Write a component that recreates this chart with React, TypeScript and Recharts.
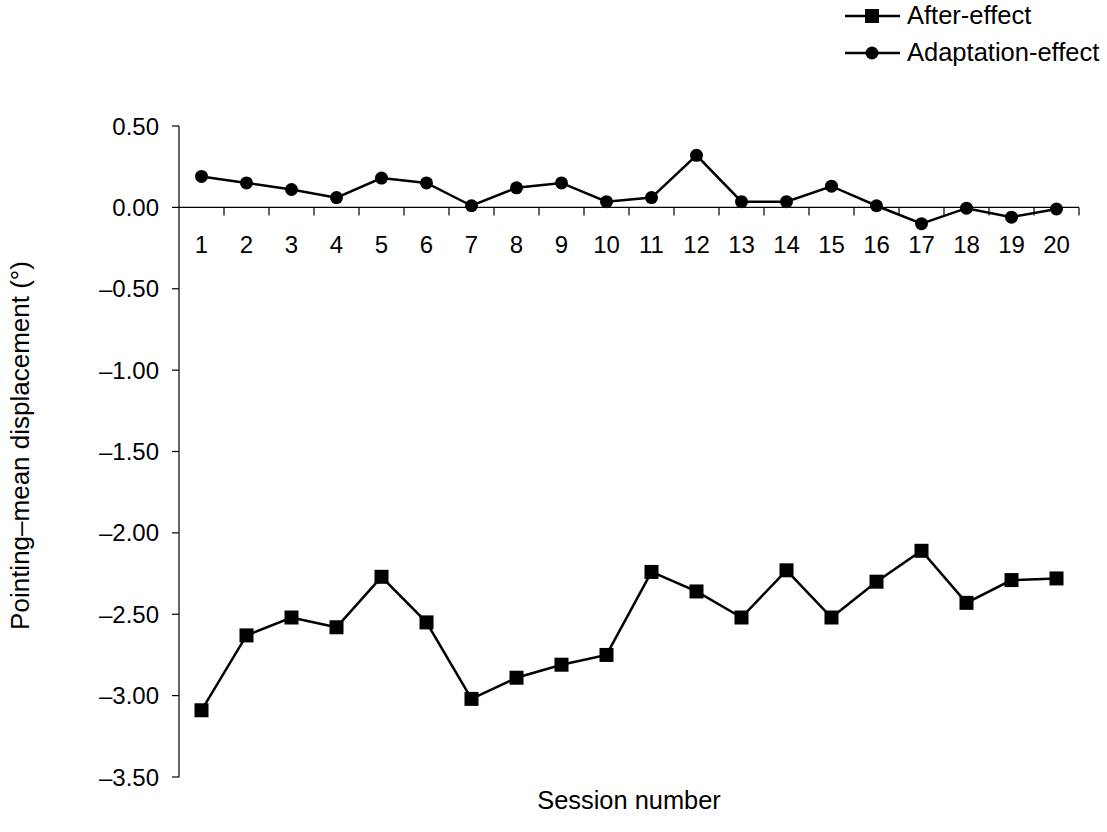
import React from 'react';
import { LineChart, Line, XAxis, YAxis, ReferenceLine } from 'recharts';

const sessions = ['1', '2', '3', '4', '5', '6', '7', '8', '9', '10', '11', '12', '13', '14', '15', '16', '17', '18', '19', '20'];
const afterEffect = [-3.09, -2.63, -2.52, -2.58, -2.27, -2.55, -3.02, -2.89, -2.81, -2.75, -2.24, -2.36, -2.52, -2.23, -2.52, -2.3, -2.11, -2.43, -2.29, -2.28];
const adaptationEffect = [0.19, 0.15, 0.11, 0.06, 0.18, 0.15, 0.01, 0.12, 0.15, 0.035, 0.06, 0.32, 0.035, 0.035, 0.13, 0.01, -0.1, -0.005, -0.06, -0.01];
const yTicks = [-3.5, -3, -2.5, -2, -1.5, -1, -0.5, 0, 0.5];
const seriesNames = ['After-effect', 'Adaptation-effect'];

const data = sessions.map((s, i) => ({ session: s, after: afterEffect[i], adaptation: adaptationEffect[i] }));

const FONT = '"Liberation Sans", Arial, Helvetica, sans-serif';

const fmt = (v: number) => v.toFixed(2).replace('-', '\u2013');

// zero line drawn as the category axis: ticks between sessions, labels under each one
const ZeroAxis = (props: any) => {
  const { x1, x2, y1 } = props;
  const n = sessions.length;
  const bw = (x2 - x1) / n;
  return (
    <g>
      <line x1={x1} y1={y1} x2={x2} y2={y1} stroke="#000" strokeWidth={1.2} />
      {sessions.map((s, i) => (
        <line key={'t' + i} x1={x1 + (i + 1) * bw} x2={x1 + (i + 1) * bw} y1={y1} y2={y1 + 8} stroke="#000" strokeWidth={1.2} />
      ))}
      {sessions.map((s, i) => (
        <text key={'l' + i} x={x1 + (i + 0.5) * bw} y={y1 + 46} textAnchor="middle" fontSize={24} fontFamily={FONT} fill="#000">
          {s}
        </text>
      ))}
    </g>
  );
};

const SquareDot = (p: any) => (
  <rect key={'sq' + p.index} x={p.cx - 7} y={p.cy - 7} width={14} height={14} fill="#000" />
);

const CircleDot = (p: any) => (
  <circle key={'c' + p.index} cx={p.cx} cy={p.cy} r={6.5} fill="#000" />
);

const LegendBox = () => (
  <div style={{ position: 'absolute', left: 843, top: -3, fontFamily: FONT, fontSize: 25.5, color: '#000' }}>
    {seriesNames.map((name, i) => (
      <div key={name} style={{ display: 'flex', alignItems: 'center', height: 37 }}>
        <svg width={60} height={20} style={{ marginRight: 4 }}>
          <line x1={2} y1={10} x2={57} y2={10} stroke="#000" strokeWidth={2.5} />
          {i === 0 ? <rect x={22} y={3} width={14} height={14} fill="#000" /> : <circle cx={29} cy={10} r={6.5} fill="#000" />}
        </svg>
        <span>{name}</span>
      </div>
    ))}
  </div>
);

export default function App() {
  return (
    <div style={{ position: 'absolute', left: 0, top: 0, width: 1107, height: 832, background: '#fff' }}>
      <LineChart width={1107} height={832} data={data} margin={{ top: 126, right: 28, left: 0, bottom: 15 }}>
        <XAxis
          dataKey="session"
          scale="band"
          height={40}
          axisLine={false}
          tickLine={false}
          tick={false}
          label={{
            content: (p: any) => {
              const vb = p.viewBox;
              return (
                <text x={vb.x + vb.width / 2} y={vb.y + 32} textAnchor="middle" fontSize={25.4} fontFamily={FONT} fill="#000">
                  Session number
                </text>
              );
            },
          }}
        />
        <YAxis
          width={179}
          domain={[-3.5, 0.5]}
          ticks={yTicks}
          interval={0}
          tickFormatter={fmt}
          tickSize={7}
          tickMargin={13}
          axisLine={{ stroke: '#000', strokeWidth: 1.2 }}
          tickLine={{ stroke: '#000', strokeWidth: 1.2 }}
          tick={{ fill: '#000', fontSize: 24, fontFamily: FONT }}
          label={{
            content: (p: any) => {
              const vb = p.viewBox;
              const cx = vb.x + 20;
              const cy = vb.y + vb.height / 2 - 6;
              return (
                <text x={cx} y={cy} transform={`rotate(-90, ${cx}, ${cy})`} textAnchor="middle" dominantBaseline="central" fontSize={26} fontFamily={FONT} fill="#000">
                  Pointing–mean displacement (°)
                </text>
              );
            },
          }}
        />
        <ReferenceLine y={0} shape={ZeroAxis} />
        <Line dataKey="after" name={seriesNames[0]} stroke="#000" strokeWidth={2.5} dot={SquareDot} activeDot={false} isAnimationActive={false} />
        <Line dataKey="adaptation" name={seriesNames[1]} stroke="#000" strokeWidth={2.5} dot={CircleDot} activeDot={false} isAnimationActive={false} />
      </LineChart>
      <LegendBox />
    </div>
  );
}
